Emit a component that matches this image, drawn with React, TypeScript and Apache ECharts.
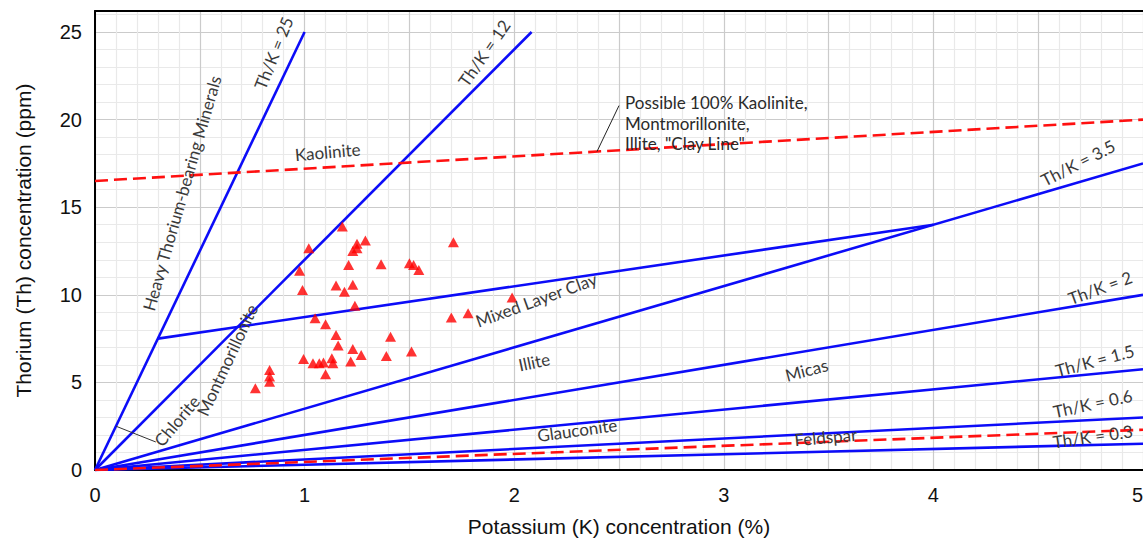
import React, { useEffect, useRef } from "react";
import * as echarts from "echarts";

// Core sample measurements: potassium (%) and thorium (ppm)
const sampleK = [
  1.18, 1.02, 1.29, 1.25, 1.25, 1.23, 0.976, 1.21, 0.99, 1.15, 1.23, 1.19, 1.24,
  1.05, 1.1, 1.15, 1.16, 1.23, 1.27, 1.22, 0.995, 1.04, 1.07, 1.09, 1.13, 1.135,
  1.1, 0.833, 0.833, 0.833, 0.765, 1.365, 1.5, 1.52, 1.545, 1.71, 1.99, 1.7, 1.78,
  1.41, 1.39, 1.51,
];
const sampleTh = [
  13.9, 12.66, 13.1, 12.91, 12.66, 12.5, 11.37, 11.7, 10.28, 10.53, 10.57, 10.18,
  9.38, 8.66, 8.32, 7.71, 7.1, 6.91, 6.57, 6.19, 6.34, 6.09, 6.09, 6.13, 6.38, 6.09,
  5.47, 5.71, 5.33, 5.04, 4.66, 11.75, 11.8, 11.7, 11.42, 13.0, 9.84, 8.7, 8.95,
  7.61, 6.51, 6.76,
];

// Th/K ratio guide lines, [K %, Th ppm] end points
const ratio25 = [[0, 0], [1, 25]];
const ratio12 = [[0, 0], [2.083, 25]];
const ratio35 = [[0, 0], [5, 17.5]];
const ratio2 = [[0, 0], [5, 10]];
const ratio15 = [[0, 0], [5, 5.75]];
const ratio06 = [[0, 0], [5, 3.0]];
const ratio03 = [[0, 0], [5, 1.5]];
const mixedLayerLine = [[0.3, 7.5], [4, 14]];
const clayLine = [[0, 16.5], [5, 20]];
const feldsparLine = [[0, 0], [5, 2.3]];
const chloriteLeader = [[0.1, 2.5], [0.29, 1.6]];
const clayLeader = [[2.395, 18.18], [2.5, 20.8]];

// Zone and line annotations: text, anchor [K, Th], rotation (deg)
const annotationText = [
  "Th/K = 25", "Th/K = 12", "Heavy Thorium-bearing Minerals", "Kaolinite",
  "Montmorillonite", "Chlorite", "Mixed Layer Clay", "Illite", "Micas",
  "Glauconite", "Feldspar", "Th/K = 3.5", "Th/K = 2", "Th/K = 1.5",
  "Th/K = 0.6", "Th/K = 0.3",
];
const annotationK = [0.852, 1.857, 0.414, 1.11, 0.63, 0.39, 2.105, 2.095, 3.395, 2.3, 3.486, 4.69, 4.795, 4.77, 4.76, 4.76];
const annotationTh = [23.8, 23.8, 15.8, 18.16, 6.28, 2.8, 9.71, 6.17, 5.71, 2.28, 1.88, 17.53, 10.4, 6.25, 3.8, 1.92];
const annotationAngle = [68, 55, 74, 5, 65, 50, 20, 12, 15, 8, 5, 27, 20, 15, 12, 8];

const clayNote = ["Possible 100% Kaolinite,", "Montmorillonite,", 'Illite, "Clay Line"'];
const clayNoteAnchor = [2.524, 20.96];

const xMin = 0;
const xMax = 5;
const yMin = 0;
const yMax = 26.2;

const BLUE = "#0c0cf8";
const RED = "#ff1010";
const TEXT = "#3a3a3a";

function guide(points: number[][], color: string, width: number, dashed = false) {
  return {
    type: "line",
    data: points,
    symbol: "none",
    silent: true,
    lineStyle: { color, width, type: dashed ? [13, 6] : "solid" },
    z: 3,
  };
}

export default function App() {
  const ref = useRef<HTMLDivElement>(null);

  useEffect(() => {
    if (!ref.current) return;
    const chart = echarts.init(ref.current, null, { renderer: "svg" });
    const tickFont = { fontFamily: "Liberation Sans, Arial, sans-serif", fontSize: 20, color: "#111" };
    const titleFont = { fontFamily: "Liberation Sans, Arial, sans-serif", fontSize: 21, color: "#111" };

    chart.setOption({
      animation: false,
      backgroundColor: "#ffffff",
      grid: {
        left: 95,
        right: 0,
        top: 11,
        bottom: 75,
        containLabel: false,
        outerBoundsMode: "none",
      },
      xAxis: [
        {
          type: "value",
          min: xMin,
          max: xMax,
          interval: 0.5,
          name: "Potassium (K) concentration (%)",
          nameLocation: "middle",
          nameGap: 46,
          nameTextStyle: titleFont,
          axisLine: { show: true, onZero: false, lineStyle: { color: "#000", width: 2 } },
          axisTick: { show: false },
          axisLabel: {
            ...tickFont,
            margin: 15,
            alignMaxLabel: "right",
            formatter: (v: number) => (Math.abs(v - Math.round(v)) < 1e-6 ? String(Math.round(v)) : ""),
          },
          splitLine: { show: true, lineStyle: { color: "#cbcbcb", width: 1.2 } },
          minorTick: { show: false, splitNumber: 5 },
          minorSplitLine: { show: true, lineStyle: { color: "#e9e9e9", width: 1.2 } },
        },
        {
          type: "value",
          position: "top",
          min: xMin,
          max: xMax,
          axisLine: { show: true, onZero: false, lineStyle: { color: "#000", width: 2 } },
          axisTick: { show: false },
          axisLabel: { show: false },
          splitLine: { show: false },
        },
      ],
      yAxis: {
        type: "value",
        min: yMin,
        max: yMax,
        interval: 5,
        name: "Thorium (Th) concentration (ppm)",
        nameLocation: "middle",
        nameGap: 61,
        nameTextStyle: titleFont,
        axisLine: { show: true, onZero: false, lineStyle: { color: "#000", width: 2 } },
        axisTick: { show: false },
        axisLabel: {
          ...tickFont,
          margin: 13,
          showMaxLabel: false,
          formatter: (v: number) => (v % 5 === 0 ? String(v) : ""),
        },
        splitLine: { show: true, lineStyle: { color: "#cbcbcb", width: 1.2 } },
        minorTick: { show: false, splitNumber: 5 },
        minorSplitLine: { show: true, lineStyle: { color: "#e9e9e9", width: 1.2 } },
      },
      series: [
        guide(ratio25, BLUE, 2.6),
        guide(ratio12, BLUE, 2.6),
        guide(ratio35, BLUE, 2.6),
        guide(ratio2, BLUE, 2.6),
        guide(ratio15, BLUE, 2.6),
        guide(ratio06, BLUE, 2.6),
        guide(ratio03, BLUE, 2.6),
        guide(mixedLayerLine, BLUE, 2.6),
        guide(clayLine, RED, 2.6, true),
        guide(feldsparLine, RED, 2.6, true),
        guide(chloriteLeader, "#333333", 1),
        guide(clayLeader, "#222222", 1),
        {
          type: "scatter",
          data: sampleK.map((k, i) => [k, sampleTh[i]]),
          symbol: "triangle",
          symbolSize: [11, 10],
          itemStyle: { color: "#ff0000" },
          z: 5,
        },
      ],
    });

    const toPx = (k: number, th: number) =>
      chart.convertToPixel({ gridIndex: 0 }, [k, th]) as number[];

    const labelFont = "17px Lato, 'Open Sans', sans-serif";
    const graphics: any[] = annotationText.map((text, i) => {
      const [x, y] = toPx(annotationK[i], annotationTh[i]);
      return {
        type: "text",
        x,
        y,
        rotation: (annotationAngle[i] * Math.PI) / 180,
        z: 20,
        style: {
          text,
          fill: TEXT,
          font: labelFont,
          align: "center",
          verticalAlign: "middle",
          textAlign: "center",
          textVerticalAlign: "middle",
        },
      };
    });
    const [nx, ny] = toPx(clayNoteAnchor[0], clayNoteAnchor[1]);
    clayNote.forEach((line, i) => {
      graphics.push({
        type: "text",
        x: nx + 1,
        y: ny + i * 20.5,
        z: 20,
        style: {
          text: line,
          fill: "#2a2a2a",
          font: labelFont,
          align: "left",
          verticalAlign: "middle",
          textAlign: "left",
          textVerticalAlign: "middle",
        },
      });
    });
    chart.setOption({ graphic: graphics });

    return () => chart.dispose();
  }, []);

  return (
    <div
      ref={ref}
      style={{ position: "fixed", left: 0, top: 0, width: 1143, height: 545, background: "#fff" }}
    />
  );
}
